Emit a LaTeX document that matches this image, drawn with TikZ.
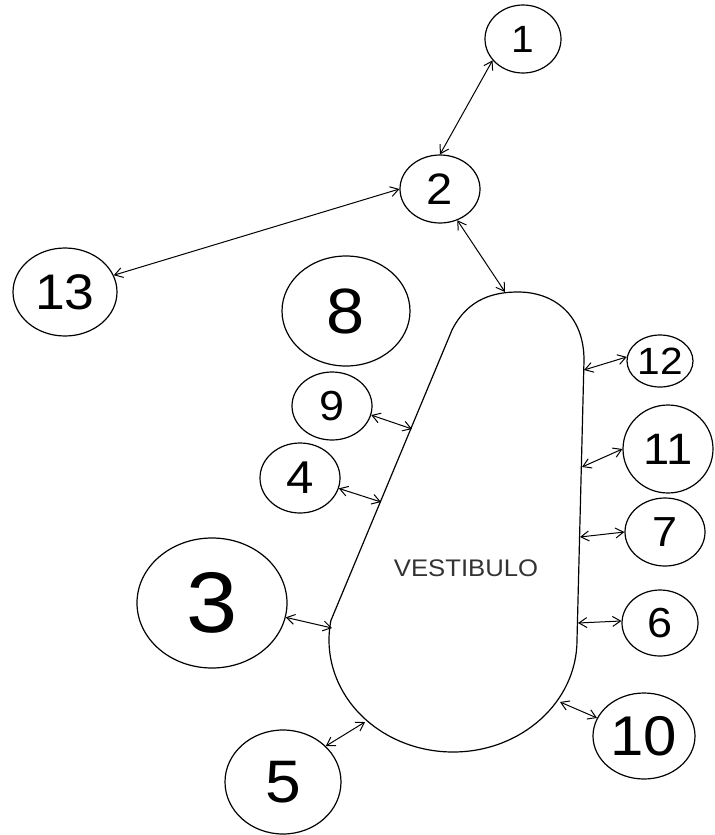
\documentclass[tikz,border=0pt]{standalone}
\usepackage{fontspec}
\setmainfont{Liberation Sans}[FakeStretch=1.07]
\usetikzlibrary{shapes.geometric, arrows.meta}
\tikzset{
  room/.style={ellipse, draw=black, line width=0.6pt, inner sep=0pt},
  hall/.style={draw=black, line width=0.6pt},
  arr/.style={{Straight Barb[length=4pt,width=5pt]}-{Straight Barb[length=4pt,width=5pt]}, line width=0.5pt},
}
\newcommand{\fs}[1]{\fontsize{#1}{#1}\selectfont}

\begin{document}
\begin{tikzpicture}[x=0.5pt, y=-0.5pt]
  \useasboundingbox (0,0) rectangle (714,835);
  \draw[hall] (452,330) .. controls (468,298) and (495,292) .. (518,292)
    .. controls (555,292) and (584,316) .. (584,360) -- (577,640)
    arc[start angle=0, end angle=-190, x radius=62pt, y radius=56pt] -- cycle;
  \node[font=\fs{12}, text=black!80] (vest) at (466,568) {VESTIBULO};
  \coordinate (v2) at (505,292); \coordinate (v9) at (412,429);
  \coordinate (v4) at (381,502); \coordinate (v3) at (332,628);
  \coordinate (v5) at (365,722); \coordinate (v10) at (560,702);
  \coordinate (v6) at (578,623); \coordinate (v7) at (580,537);
  \coordinate (v11) at (582,467); \coordinate (v12) at (584,370);
  \node[room, minimum width=38pt, minimum height=34pt, font=\fs{19}] (c1) at (523,39) {1};
  \node[room, minimum width=40pt, minimum height=34pt, font=\fs{22}] (c2) at (440,189) {2};
  \node[room, minimum width=52pt, minimum height=44pt, font=\fs{25}] (c13) at (65,292) {13};
  \node[room, minimum width=64pt, minimum height=55pt, font=\fs{32}] (c8) at (346,311) {8};
  \node[room, minimum width=40pt, minimum height=34pt, font=\fs{21}] (c9) at (332,406) {9};
  \node[room, minimum width=40pt, minimum height=35pt, font=\fs{23}] (c4) at (300,478) {4};
  \node[room, minimum width=75pt, minimum height=65pt, font=\fs{43}] (c3) at (212,603) {3};
  \node[room, minimum width=58pt, minimum height=52pt, font=\fs{30}] (c5) at (283,782) {5};
  \node[room, minimum width=33pt, minimum height=26pt, font=\fs{19}] (c12) at (660,361) {12};
  \node[room, minimum width=45pt, minimum height=44pt, font=\fs{22}] (c11) at (668,449) {11};
  \node[room, minimum width=40pt, minimum height=34pt, font=\fs{21}] (c7) at (665,532) {7};
  \node[room, minimum width=38pt, minimum height=33pt, font=\fs{21}] (c6) at (660,623) {6};
  \node[room, minimum width=51pt, minimum height=43pt, font=\fs{28}] (c10) at (644,736) {10};
  \draw[arr] (c1.215) -- (c2.north); \draw[arr] (c2.west) -- (c13.19);
  \draw[arr] (c2.-61) -- (v2); \draw[arr] (c9.-13) -- (v9);
  \draw[arr] (c4.-15) -- (v4); \draw[arr] (c3.-11) -- (v3);
  \draw[arr] (c5.40) -- (v5); \draw[arr] (c10.159) -- (v10);
  \draw[arr] (c6.177) -- (v6); \draw[arr] (c7.west) -- (v7);
  \draw[arr] (c11.west) -- (v11); \draw[arr] (c12.173) -- (v12);
\end{tikzpicture}
\end{document}
